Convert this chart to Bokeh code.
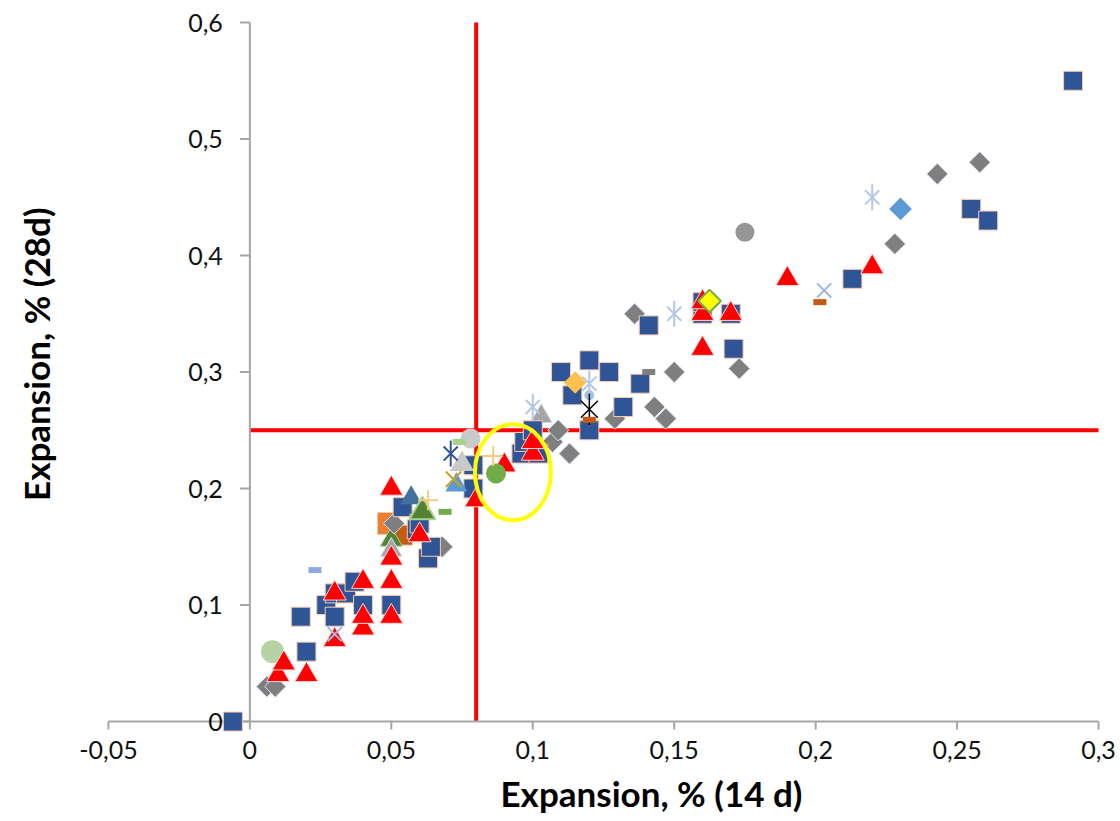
import math
from bokeh.plotting import figure
from bokeh.models import Range1d, LabelSet, ColumnDataSource, Title
from bokeh.core.properties import value
from bokeh.embed import file_html
from bokeh.resources import INLINE

# ---------------- data ----------------
x_ticks = [-0.05, 0, 0.05, 0.1, 0.15, 0.2, 0.25, 0.3]
x_tick_labels = ["-0,05", "0", "0,05", "0,1", "0,15", "0,2", "0,25", "0,3"]
y_ticks = [0, 0.1, 0.2, 0.3, 0.4, 0.5, 0.6]
y_tick_labels = ["0", "0,1", "0,2", "0,3", "0,4", "0,5", "0,6"]
x_title = "Expansion, % (14 d)"
y_title = "Expansion, % (28d)"

limit_14d = 0.08
limit_28d = 0.25
highlight_x = 0.093
highlight_y = 0.214

# dark blue squares
sq_x = [-0.006, 0.018, 0.020, 0.027, 0.030, 0.030, 0.034, 0.037, 0.040, 0.050,
        0.054, 0.059, 0.060, 0.063, 0.064, 0.079, 0.079, 0.096, 0.097, 0.100,
        0.102, 0.110, 0.114, 0.120, 0.120, 0.127, 0.132, 0.138, 0.141, 0.160,
        0.160, 0.170, 0.171, 0.213, 0.255, 0.261, 0.291]
sq_y = [0.000, 0.090, 0.060, 0.100, 0.090, 0.110, 0.110, 0.120, 0.100, 0.100,
        0.184, 0.165, 0.170, 0.140, 0.150, 0.220, 0.200, 0.230, 0.240, 0.250,
        0.230, 0.300, 0.280, 0.310, 0.250, 0.300, 0.270, 0.290, 0.340, 0.350,
        0.360, 0.350, 0.320, 0.380, 0.440, 0.430, 0.550]

# red triangles
tri_x = [0.010, 0.012, 0.020, 0.030, 0.030, 0.040, 0.040, 0.040, 0.050, 0.050,
         0.050, 0.050, 0.060, 0.080, 0.090, 0.100, 0.100, 0.160, 0.160, 0.160,
         0.170, 0.190, 0.220]
tri_y = [0.040, 0.050, 0.040, 0.070, 0.110, 0.080, 0.090, 0.120, 0.090, 0.120,
         0.140, 0.200, 0.160, 0.190, 0.220, 0.230, 0.240, 0.320, 0.350, 0.360,
         0.350, 0.380, 0.390]

# grey diamonds
dia_x = [0.006, 0.009, 0.051, 0.068, 0.107, 0.109, 0.113, 0.129, 0.136, 0.143,
         0.147, 0.150, 0.173, 0.228, 0.243, 0.258]
dia_y = [0.030, 0.030, 0.170, 0.150, 0.240, 0.250, 0.230, 0.260, 0.350, 0.270,
         0.260, 0.300, 0.303, 0.410, 0.470, 0.480]

# light blue stars
star_x = [0.100, 0.120, 0.150, 0.220]
star_y = [0.270, 0.290, 0.350, 0.450]

# light blue crosses (x)
lx_x = [0.030, 0.203]
lx_y = [0.075, 0.370]

# single-point series
dkstar_x, dkstar_y = [0.071], [0.230]
blkstar_x, blkstar_y = [0.120], [0.268]
goldx_x, goldx_y = [0.072], [0.208]
plus_x, plus_y = [0.063, 0.086], [0.190, 0.228]
orsq_x, orsq_y = [0.049], [0.170]
brsq_x, brsq_y = [0.054], [0.160]
grtri_x, grtri_y = [0.061], [0.180]
dgrtri_x, dgrtri_y = [0.050], [0.156]
gytri_x, gytri_y = [0.050, 0.103], [0.147, 0.262]
lgytri_x, lgytri_y = [0.075], [0.221]
lbtri_x, lbtri_y = [0.073], [0.203]
sbtri_x, sbtri_y = [0.057], [0.192]
lgcirc_x, lgcirc_y = [0.008], [0.060]
gycirc_x, gycirc_y = [0.175], [0.420]
lgycirc_x, lgycirc_y = [0.078], [0.243]
gcirc_x, gcirc_y = [0.087], [0.213]
lbcirc_x, lbcirc_y = [0.120], [0.280]
bdia_x, bdia_y = [0.230], [0.440]
ydia_x, ydia_y = [0.1625], [0.361]
odia_x, odia_y = [0.115], [0.291]
dash_lb_x, dash_lb_y = [0.023], [0.130]
dash_lg_x, dash_lg_y = [0.074], [0.240]
dash_g_x, dash_g_y = [0.069], [0.180]
dash_gy_x, dash_gy_y = [0.141], [0.300]
dash_o_x, dash_o_y = [0.2015, 0.120], [0.360, 0.259]

# ---------------- figure ----------------
FONT = "Lato"
AXIS_GREY = "#A6A6A6"
p = figure(width=1118, height=818,
           x_range=Range1d(-0.0627, 0.30706), y_range=Range1d(-0.0403, 0.6189),
           output_backend="svg", toolbar_location=None,
           min_border_left=70, min_border_right=0,
           min_border_top=0, min_border_bottom=50)
p.outline_line_color = None
p.grid.visible = False
p.xaxis.visible = False
p.yaxis.visible = False
p.background_fill_color = "white"

# axis titles
p.add_layout(Title(text=x_title, align="left", offset=428,
                   text_font=FONT, text_font_size="35px", text_font_style="bold",
                   text_color="#000000", standoff=2), "below")
p.add_layout(Title(text=y_title, align="right", offset=207, vertical_align="top",
                   text_font=FONT, text_font_size="35px", text_font_style="bold",
                   text_color="#000000", standoff=28), "left")

# red threshold lines (behind the points)
p.segment(x0=[limit_14d], x1=[limit_14d], y0=[y_ticks[0]], y1=[y_ticks[-1]],
          line_color="#FF0000", line_width=4)
p.segment(x0=[0], x1=[x_ticks[-1]], y0=[limit_28d], y1=[limit_28d],
          line_color="#FF0000", line_width=4)

# axes drawn at x = 0 and y = 0
p.segment(x0=[x_ticks[0]], x1=[x_ticks[-1]], y0=[0], y1=[0],
          line_color=AXIS_GREY, line_width=2)
p.segment(x0=[0], x1=[0], y0=[y_ticks[0]], y1=[y_ticks[-1]],
          line_color=AXIS_GREY, line_width=2)
p.ray(x=x_ticks, y=[0] * len(x_ticks), length=8, length_units="screen",
      angle=-math.pi / 2, line_color=AXIS_GREY, line_width=2)
p.ray(x=[0] * len(y_ticks), y=y_ticks, length=10, length_units="screen",
      angle=math.pi, line_color=AXIS_GREY, line_width=2)

xtick_src = ColumnDataSource(dict(x=x_ticks, y=[0] * len(x_ticks), text=x_tick_labels))
p.add_layout(LabelSet(x="x", y="y", text="text", source=xtick_src, y_offset=-19,
                      text_align="center", text_baseline="top",
                      text_font=value(FONT), text_font_size=value("25px"),
                      text_color="#111111"))
ytick_src = ColumnDataSource(dict(x=[0] * len(y_ticks), y=y_ticks, text=y_tick_labels))
p.add_layout(LabelSet(x="x", y="y", text="text", source=ytick_src, x_offset=-27,
                      text_align="right", text_baseline="middle",
                      text_font=value(FONT), text_font_size=value("25px"),
                      text_color="#111111"))

D45 = math.pi / 4

def star(xs, ys, color, size=20, lw=2):
    p.scatter(xs, ys, marker="x", size=size, line_color=color, line_width=lw)
    p.scatter(xs, ys, marker="dash", size=size * 1.3, angle=math.pi / 2,
              line_color=color, line_width=lw)

def dash(xs, ys, color):
    p.scatter(xs, ys, marker="dash", size=13, line_color=color, line_width=6)

# back layer series
p.scatter(orsq_x, orsq_y, marker="square", size=22, fill_color="#ED7D31", line_color="#F8CBAD")
p.scatter(brsq_x, brsq_y, marker="square", size=20, fill_color="#C55A11", line_color="#F8CBAD")
p.scatter(lgcirc_x, lgcirc_y, marker="circle", size=23, fill_color="#B5D3A4", line_color=None)
p.scatter(lgycirc_x, lgycirc_y, marker="circle", size=20, fill_color="#C9C9C9", line_color=None)
p.scatter(dgrtri_x, dgrtri_y, marker="triangle", size=22, fill_color="#548235", line_color="#A9D18E")
p.scatter(gytri_x, gytri_y, marker="triangle", size=22, fill_color="#A5A5A5", line_color="#DAE3F3")

# grey diamonds
p.scatter(dia_x, dia_y, marker="square", angle=D45, size=15,
          fill_color="#7F7F7F", line_color="#DAE3F3", line_width=1)
# dark blue squares
p.scatter(sq_x, sq_y, marker="square", size=19,
          fill_color="#2F5597", line_color="#F8CBAD", line_width=1)
# red triangles
p.scatter(tri_x, tri_y, marker="triangle", size=23,
          fill_color="#FF0000", line_color="#FBD5D5", line_width=1)

# front misc series
p.scatter(lgytri_x, lgytri_y, marker="triangle", size=24, fill_color="#C9C9C9", line_color=None)
p.scatter(lbtri_x, lbtri_y, marker="triangle", size=22, fill_color="#5B9BD5", line_color=None)
p.scatter(sbtri_x, sbtri_y, marker="triangle", size=22, fill_color="#41719C", line_color=None)
p.scatter(grtri_x, grtri_y, marker="triangle", size=26, fill_color="#548235", line_color="#A9D18E", line_width=2)
p.scatter(gcirc_x, gcirc_y, marker="circle", size=20, fill_color="#70AD47", line_color=None)
p.scatter(gycirc_x, gycirc_y, marker="circle", size=19, fill_color="#969696", line_color=None)
p.scatter(lbcirc_x, lbcirc_y, marker="circle", size=10, fill_color="#9DC3E6", line_color=None)
p.scatter(bdia_x, bdia_y, marker="square", angle=D45, size=16, fill_color="#5B9BD5", line_color=None)
p.scatter(odia_x, odia_y, marker="square", angle=D45, size=16, fill_color="#FFC04D", line_color=None)
p.scatter(ydia_x, ydia_y, marker="square", angle=D45, size=16, fill_color="#FFFF00", line_color="#70AD47", line_width=2)
p.scatter(plus_x, plus_y, marker="cross", size=20, line_color="#F8CB7F", line_width=2)
p.scatter(goldx_x, goldx_y, marker="x", size=22, line_color="#C9A227", line_width=2)
p.scatter(lx_x, lx_y, marker="x", size=20, line_color="#9DB9E3", line_width=2)
star(star_x, star_y, "#B4C7E7")
star(dkstar_x, dkstar_y, "#2F5597")
star(blkstar_x, blkstar_y, "#000000", size=24, lw=1.5)
dash(dash_lb_x, dash_lb_y, "#8FAADC")
dash(dash_lg_x, dash_lg_y, "#A9D18E")
dash(dash_g_x, dash_g_y, "#70AD47")
dash(dash_gy_x, dash_gy_y, "#7F7F7F")
dash(dash_o_x, dash_o_y, "#C55A11")

# yellow highlight ellipse
p.ellipse(x=[highlight_x], y=[highlight_y], width=76, height=96,
          width_units="screen", height_units="screen",
          fill_color=None, line_color="#FFFF00", line_width=4)

open("out.html", "w").write(file_html(p, INLINE))
